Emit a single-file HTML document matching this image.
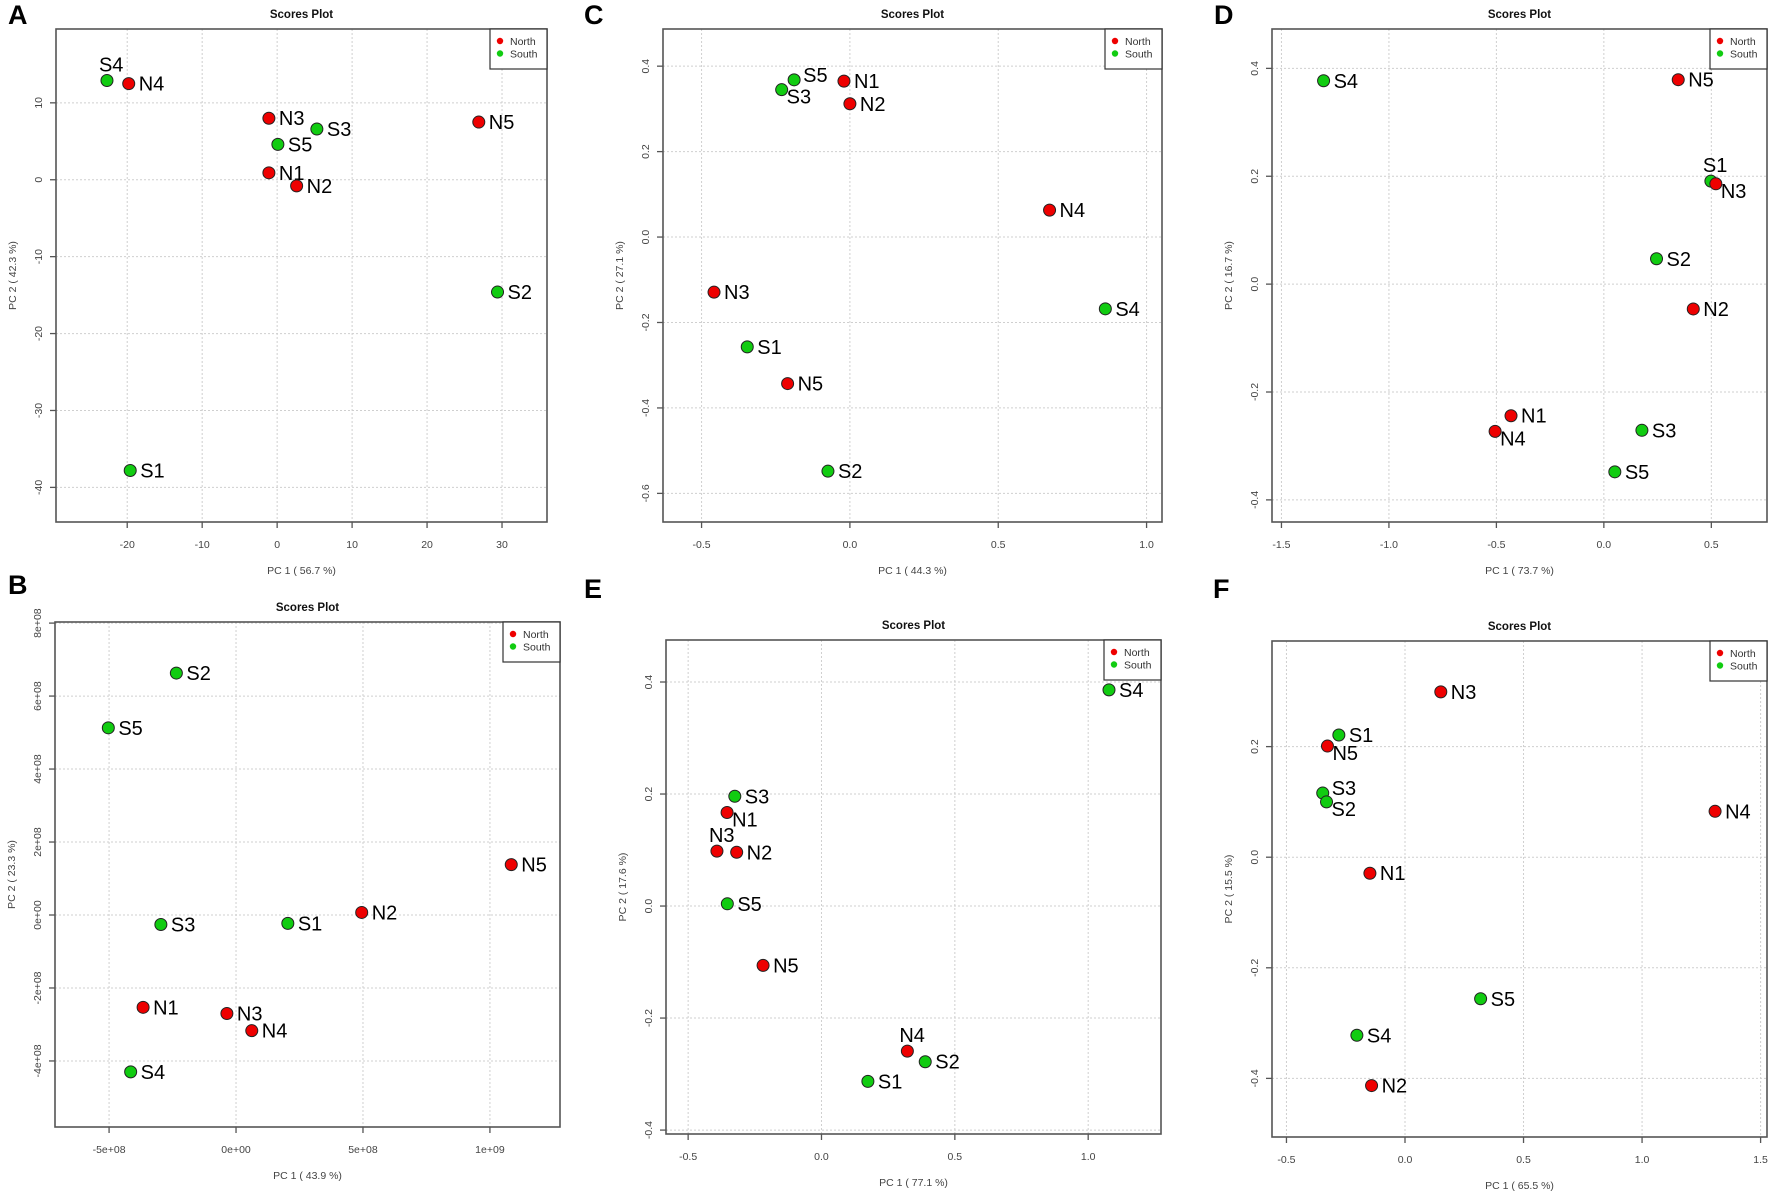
<!DOCTYPE html>
<html><head><meta charset="utf-8"><style>
html,body{margin:0;padding:0;background:#fff;}
svg{display:block;font-family:"Liberation Sans",Arial,sans-serif;}
</style></head><body>
<svg id="fig" width="1772" height="1195" viewBox="0 0 1772 1195" xmlns="http://www.w3.org/2000/svg"></svg>
<script>
// ---- data (per panel) ----
const labelsA = ["S4","N4","N3","S3","S5","N1","N2","N5","S2","S1"];
const pc1A = [-22.7,-19.8,-1.1,5.3,0.1,-1.1,2.6,26.9,29.4,-19.6];
const pc2A = [12.9,12.5,8.0,6.6,4.6,0.9,-0.8,7.5,-14.6,-37.8];
const xTicksA = [-20,-10,0,10,20,30];
const yTicksA = [10,0,-10,-20,-30,-40];

const labelsB = ["S2","S5","S3","S1","N2","N5","N1","N3","N4","S4"];
const pc1B = [-2.35e8,-5.03e8,-2.96e8,2.04e8,4.95e8,10.84e8,-3.66e8,-0.36e8,0.62e8,-4.15e8];
const pc2B = [6.63e8,5.13e8,-0.26e8,-0.23e8,0.07e8,1.38e8,-2.53e8,-2.70e8,-3.17e8,-4.3e8];
const xTicksB = [-5e8,0,5e8,1e9];
const xTickLabelsB = ["-5e+08","0e+00","5e+08","1e+09"];
const yTicksB = [8e8,6e8,4e8,2e8,0,-2e8,-4e8];
const yTickLabelsB = ["8e+08","6e+08","4e+08","2e+08","0e+00","-2e+08","-4e+08"];

const labelsC = ["S5","N1","S3","N2","N4","N3","S1","N5","S2","S4"];
const pc1C = [-0.188,-0.02,-0.23,0.0,0.673,-0.458,-0.346,-0.21,-0.074,0.861];
const pc2C = [0.368,0.365,0.345,0.312,0.063,-0.129,-0.257,-0.343,-0.548,-0.168];
const xTicksC = [-0.5,0,0.5,1.0];
const yTicksC = [0.4,0.2,0,-0.2,-0.4,-0.6];

const labelsD = ["S4","N5","S1","N3","S2","N2","N1","N4","S3","S5"];
const pc1D = [-1.304,0.346,0.498,0.521,0.245,0.416,-0.432,-0.506,0.177,0.051];
const pc2D = [0.377,0.379,0.191,0.186,0.047,-0.046,-0.244,-0.273,-0.271,-0.348];
const xTicksD = [-1.5,-1.0,-0.5,0,0.5];
const yTicksD = [0.4,0.2,0,-0.2,-0.4];

const labelsE = ["S4","S3","N1","N3","N2","S5","N5","N4","S2","S1"];
const pc1E = [1.078,-0.325,-0.354,-0.392,-0.318,-0.353,-0.219,0.322,0.389,0.174];
const pc2E = [0.386,0.196,0.167,0.098,0.096,0.004,-0.106,-0.259,-0.278,-0.313];
const xTicksE = [-0.5,0,0.5,1.0];
const yTicksE = [0.4,0.2,0,-0.2,-0.4];

const labelsF = ["N3","S1","N5","S3","S2","N4","N1","S5","S4","N2"];
const pc1F = [0.151,-0.279,-0.327,-0.347,-0.331,1.308,-0.148,0.319,-0.203,-0.141];
const pc2F = [0.299,0.221,0.201,0.116,0.100,0.083,-0.029,-0.256,-0.322,-0.413];
const xTicksF = [-0.5,0,0.5,1.0,1.5];
const yTicksF = [0.2,0,-0.2,-0.4];

// label placement codes (r=right, a=above, rb=right-below)
const posA = ["a","r","r","r","r","r","r","r","r","r"];
const posB = ["r","r","r","r","r","r","r","r","r","r"];
const posC = ["ru","r","rb","r","r","r","r","r","r","r"];
const posD = ["r","r","a","rb","r","r","r","rb","r","r"];
const posE = ["r","r","rb","a","r","r","r","a","r","r"];
const posF = ["r","r","rb","ru","rb","r","r","r","r","r"];

const NS = "http://www.w3.org/2000/svg";
const svg = document.getElementById("fig");
function mk(tag, attrs, parent){
  const e = document.createElementNS(NS, tag);
  for (const k in attrs) e.setAttribute(k, attrs[k]);
  (parent||svg).appendChild(e);
  return e;
}
function scale(d0,d1,r0,r1){ return v => r0 + (v-d0)/(d1-d0)*(r1-r0); }
function fmt(v){ if (Math.abs(v) < 1e-9) return "0"; return String(v); }
function fmt1(v){ return (Math.abs(v)<1e-9?0:v).toFixed(1); }

function panel(p){
  const g = mk("g", {});
  
  
  const X = scale(p.xd[0], p.xd[1], p.L, p.R);
  const Y = scale(p.yd[0], p.yd[1], p.T, p.B);
  // letter
  const lt = mk("text", {x:p.letter[0], y:p.letter[1], "font-size":27, "font-weight":"bold", fill:"#000"}, g);
  lt.textContent = p.id;
  
  
  // title
  const tt = mk("text", {x:(p.L+p.R)/2, y:p.T-11, "font-size":11.5, "font-weight":"bold", "text-anchor":"middle", fill:"#111"}, g);
  tt.textContent = "Scores Plot";
  
  
  // grid
  p.xt.forEach((v) => {
    const ln = mk("line", {x1:X(v), x2:X(v), y1:p.T, y2:p.B, stroke:"#cfcfcf", "stroke-width":1, "stroke-dasharray":"2,2"}, g);
    
    
  });
  p.yt.forEach((v) => {
    const ln = mk("line", {x1:p.L, x2:p.R, y1:Y(v), y2:Y(v), stroke:"#cfcfcf", "stroke-width":1, "stroke-dasharray":"2,2"}, g);
    
    
  });
  // frame
  const fr = mk("rect", {x:p.L, y:p.T, width:p.R-p.L, height:p.B-p.T, fill:"none", stroke:"#555", "stroke-width":1.6}, g);
  
  
  // x ticks
  p.xt.forEach((v,i) => {
    const tk = mk("line", {x1:X(v), x2:X(v), y1:p.B, y2:p.B+6, stroke:"#555", "stroke-width":1.3}, g);
    
    
    const tl = mk("text", {x:X(v), y:p.B+26, "font-size":10.5, "text-anchor":"middle", fill:"#444"}, g);
    tl.textContent = p.xl ? p.xl[i] : p.xf(v);
    
    
  });
  // y ticks
  p.yt.forEach((v,i) => {
    const tk = mk("line", {x1:p.L-6, x2:p.L, y1:Y(v), y2:Y(v), stroke:"#555", "stroke-width":1.3}, g);
    
    
    const tx = p.L-14, ty = Y(v);
    const tl = mk("text", {x:tx, y:ty, "font-size":10.5, "text-anchor":"middle", fill:"#444", transform:"rotate(-90 "+tx+" "+ty+")"}, g);
    tl.textContent = p.yl ? p.yl[i] : p.yf(v);
    
    
  });
  // axis titles
  const xa = mk("text", {x:(p.L+p.R)/2, y:p.B+52, "font-size":10.5, "text-anchor":"middle", fill:"#444"}, g);
  xa.textContent = p.xTitle;
  
  
  const ax = p.L-40, ay = (p.T+p.B)/2;
  const ya = mk("text", {x:ax, y:ay, "font-size":10.5, "text-anchor":"middle", fill:"#444", transform:"rotate(-90 "+ax+" "+ay+")"}, g);
  ya.textContent = p.yTitle;
  
  
  // legend
  const lg = mk("g", {}, g);
  
  
  const lx = p.R-57, ly = p.T;
  mk("rect", {x:lx, y:ly, width:57, height:40, fill:"#fff", stroke:"#333", "stroke-width":1.2}, lg);
  [["North","#ee0000"],["South","#11cc11"]].forEach((e,i) => {
    const en = mk("g", {}, lg);
    
    
    mk("circle", {cx:lx+10, cy:ly+12+i*12.5, r:3.2, fill:e[1]}, en);
    const t = mk("text", {x:lx+20, y:ly+16+i*12.5, "font-size":10.5, fill:"#333"}, en);
    t.textContent = e[0];
  });
  // points
  p.labels.forEach((lab,i) => {
    const cx = X(p.xs[i]), cy = Y(p.ys[i]);
    const north = lab[0] === "N";
    const pt = mk("g", {}, g);
    
    
    mk("circle", {cx:cx, cy:cy, r:6, fill: north ? "#ee0000" : "#11cc11", stroke:"#222", "stroke-width":1}, pt);
    let tx = cx+10, ty = cy+7, anchor = "start";
    const ps = p.pos[i];
    if (ps === "a") { tx = cx-8; ty = cy-9; }
    else if (ps === "rb") { tx = cx+5; ty = cy+14; }
    else if (ps === "ru") { tx = cx+9; ty = cy+2; }
    const t = mk("text", {x:tx, y:ty, "font-size":20, fill:"#000", "text-anchor":anchor}, pt);
    t.textContent = lab;
  });
}

panel({id:"A", letter:[8,24], L:56, R:547, T:29, B:522, xd:[-29.5,36.0], yd:[19.6,-44.5],
  xt:xTicksA, yt:yTicksA, xf:fmt, yf:fmt, labels:labelsA, xs:pc1A, ys:pc2A, pos:posA,
  xTitle:"PC 1 ( 56.7 %)", yTitle:"PC 2 ( 42.3 %)"});
panel({id:"B", letter:[8,594], L:55, R:560, T:622, B:1127, xd:[-7.13e8,12.76e8], yd:[8.03e8,-5.81e8],
  xt:xTicksB, yt:yTicksB, xl:xTickLabelsB, yl:yTickLabelsB, labels:labelsB, xs:pc1B, ys:pc2B, pos:posB,
  xTitle:"PC 1 ( 43.9 %)", yTitle:"PC 2 ( 23.3 %)"});
panel({id:"C", letter:[584,24], L:663, R:1162, T:29, B:522, xd:[-0.630,1.052], yd:[0.487,-0.667],
  xt:xTicksC, yt:yTicksC, xf:fmt1, yf:fmt1, labels:labelsC, xs:pc1C, ys:pc2C, pos:posC,
  xTitle:"PC 1 ( 44.3 %)", yTitle:"PC 2 ( 27.1 %)"});
panel({id:"D", letter:[1214,24], L:1272, R:1767, T:29, B:522, xd:[-1.544,0.759], yd:[0.473,-0.441],
  xt:xTicksD, yt:yTicksD, xf:fmt1, yf:fmt1, labels:labelsD, xs:pc1D, ys:pc2D, pos:posD,
  xTitle:"PC 1 ( 73.7 %)", yTitle:"PC 2 ( 16.7 %)"});
panel({id:"E", letter:[584,598], L:666, R:1161, T:640, B:1134, xd:[-0.583,1.273], yd:[0.475,-0.407],
  xt:xTicksE, yt:yTicksE, xf:fmt1, yf:fmt1, labels:labelsE, xs:pc1E, ys:pc2E, pos:posE,
  xTitle:"PC 1 ( 77.1 %)", yTitle:"PC 2 ( 17.6 %)"});
panel({id:"F", letter:[1213,598], L:1272, R:1767, T:641, B:1137, xd:[-0.561,1.527], yd:[0.391,-0.506],
  xt:xTicksF, yt:yTicksF, xf:fmt1, yf:fmt1, labels:labelsF, xs:pc1F, ys:pc2F, pos:posF,
  xTitle:"PC 1 ( 65.5 %)", yTitle:"PC 2 ( 15.5 %)"});
</script>
</body></html>
